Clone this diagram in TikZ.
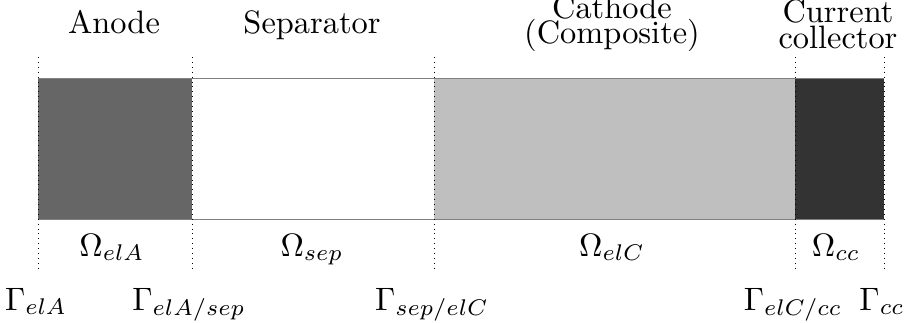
\documentclass[tikz,border=0pt]{standalone}
\begin{document}
\begin{tikzpicture}[x=0.5pt,y=-0.5pt,
  lab/.style={font=\fontsize{10}{12}\selectfont, inner sep=0pt, anchor=base, scale=1.62, transform shape},
  bound/.style={dotted, line width=0.45pt, black},
  edge/.style={line width=0.5pt, black!50}]
\useasboundingbox (0,0) rectangle (904,322);
% boundary coordinates
\coordinate (atop) at (38,57);  \coordinate (abot) at (38,272);
\coordinate (btop) at (192,57); \coordinate (bbot) at (192,272);
\coordinate (ctop) at (434,57); \coordinate (cbot) at (434,272);
\coordinate (dtop) at (795,57); \coordinate (dbot) at (795,272);
\coordinate (etop) at (884,57); \coordinate (ebot) at (884,272);
\coordinate (aup) at (38,78);  \coordinate (alo) at (38,219);
\coordinate (bup) at (192,78); \coordinate (blo) at (192,219);
\coordinate (cup) at (434,78); \coordinate (clo) at (434,219);
\coordinate (dup) at (795,78); \coordinate (dlo) at (795,219);
\coordinate (eup) at (884,78); \coordinate (elo) at (884,219);
% regions
\fill[black!60] (aup) rectangle (blo);
\fill[white] (bup) rectangle (clo);
\fill[black!25] (cup) rectangle (dlo);
\fill[black!80] (dup) rectangle (elo);
\draw[edge] (aup) -- (eup);
\draw[edge] (alo) -- (elo);
% boundaries
\draw[bound] (atop) -- (abot);
\draw[bound] (btop) -- (bbot);
\draw[bound] (ctop) -- (cbot);
\draw[bound] (dtop) -- (dbot);
\draw[bound] (etop) -- (ebot);
% titles
\node[lab] (tA) at (114,33) {Anode};
\node[lab] (tS) at (312,33) {Separator};
\node[lab] (tC1) at (612,18) {Cathode};
\node[lab] (tC2) at (612,43) {(Composite)};
\node[lab] (tI1) at (838,22) {Current};
\node[lab] (tI2) at (838,48) {collector};
% domains
\node[lab] (oA) at (112,256) {$\Omega_{elA}$};
\node[lab] (oS) at (312,256) {$\Omega_{sep}$};
\node[lab] (oC) at (612,256) {$\Omega_{elC}$};
\node[lab] (oI) at (836,256) {$\Omega_{cc}$};
% boundary labels
\node[lab] (gA) at (36,310) {$\Gamma_{elA}$};
\node[lab] (gAS) at (189,310) {$\Gamma_{elA/sep}$};
\node[lab] (gSC) at (432,310) {$\Gamma_{sep/elC}$};
\node[lab] (gCI) at (793,310) {$\Gamma_{elC/cc}$};
\node[lab] (gI) at (882,310) {$\Gamma_{cc}$};
\end{tikzpicture}
\end{document}
